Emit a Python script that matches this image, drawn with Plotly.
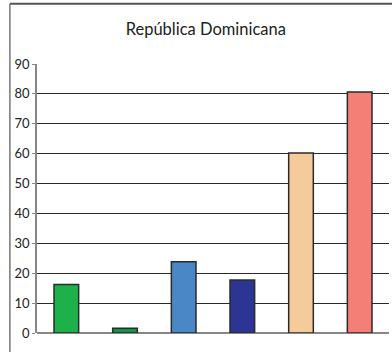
import plotly.graph_objects as go

# categorías (sin etiquetas visibles en el original)
categories = ["c1", "c2", "c3", "c4", "c5", "c6"]
values = [16.2, 1.6, 23.8, 17.7, 60.2, 80.6]
colors = ["#1db14b", "#14924a", "#4a87c7", "#2c3594", "#f6cb9b", "#f37f76"]
y_ticks = [0, 10, 20, 30, 40, 50, 60, 70, 80, 90]

fig = go.Figure()
fig.add_trace(go.Bar(
    x=categories, y=values,
    marker=dict(color=colors, line=dict(color="#2b2b2b", width=1.5)),
    width=0.42,
    hoverinfo="y",
))

# marco del gráfico (solo se ven los bordes izquierdo y superior)
fig.add_shape(type="line", xref="paper", yref="paper",
              x0=-0.077, x1=1.1, y0=1.224, y1=1.224,
              line=dict(color="#555", width=2))
fig.add_shape(type="line", xref="paper", yref="paper",
              x0=-0.077, x1=-0.077, y0=1.224, y1=-0.2,
              line=dict(color="#777", width=1.5))

fig.update_layout(
    width=392, height=352,
    margin=dict(l=37, r=3, t=64, b=19),
    paper_bgcolor="white", plot_bgcolor="white",
    font=dict(family="Lato", color="#222"),
    title=dict(text="República Dominicana", x=0.525, xanchor="center",
               y=0.918, yanchor="middle", font=dict(size=16.5, color="#222")),
    showlegend=False,
)
fig.update_xaxes(showticklabels=False, showgrid=False, zeroline=False,
                 showline=False, range=[-0.5, 5.5])
fig.update_yaxes(range=[0, 90], tickvals=y_ticks, showgrid=True,
                 gridcolor="#2a2a2a", gridwidth=1, zeroline=True,
                 zerolinecolor="#888", zerolinewidth=1.5,
                 showline=True, linecolor="#888", linewidth=1.5,
                 ticks="outside", ticklen=3, tickcolor="#888",
                 tickfont=dict(size=13, color="#222"))

fig.write_html("out.html", config={"displayModeBar": False},
               post_script="document.body.style.margin='0';")
